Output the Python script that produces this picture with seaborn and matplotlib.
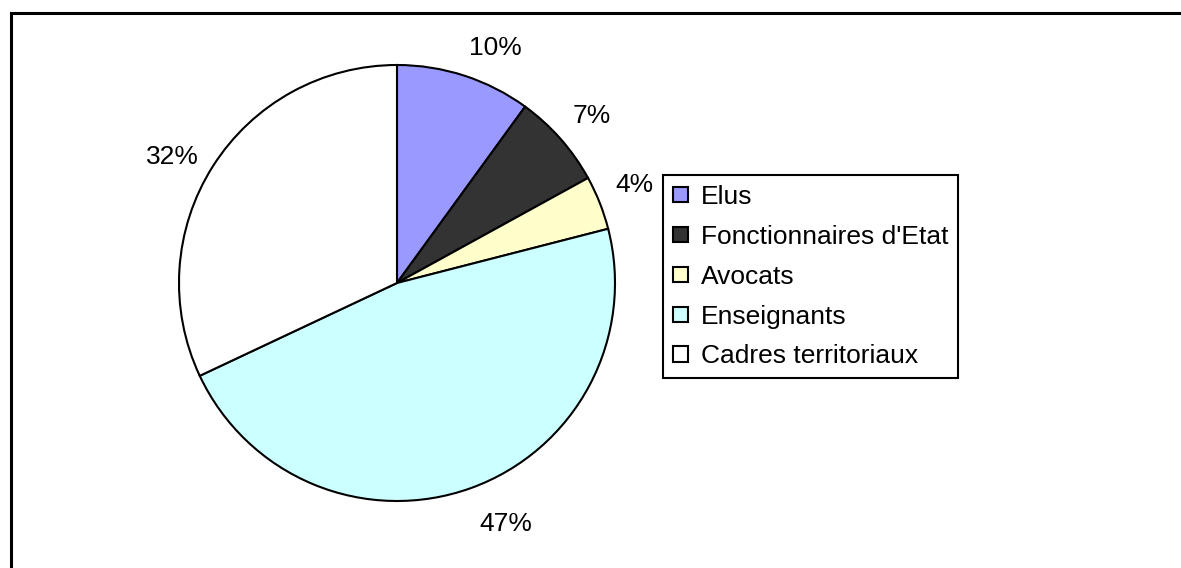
import matplotlib
matplotlib.use("Agg")
import matplotlib.pyplot as plt
import seaborn as sns
from matplotlib.patches import Patch
from matplotlib.lines import Line2D

categories = ["Elus", "Fonctionnaires d'Etat", "Avocats", "Enseignants", "Cadres territoriaux"]
values = [10, 7, 4, 47, 32]
labels = ["10%", "7%", "4%", "47%", "32%"]
colors = ["#9999FF", "#333333", "#FFFFCC", "#CCFFFF", "#FFFFFF"]

sns.set_theme(style="white")
plt.rcParams['font.family'] = ['Liberation Sans', 'DejaVu Sans']
plt.rcParams['text.color'] = 'black'

W, H = 1181, 568
fig = plt.figure(figsize=(W / 100, H / 100), dpi=100)
fig.patch.set_facecolor("white")

cx, cy, r = 397, 283, 218
ax = fig.add_axes([(cx - r) / W, (H - cy - r) / H, 2 * r / W, 2 * r / H])
wedges, texts = ax.pie(values, colors=colors, startangle=90, counterclock=False,
                       labels=labels, labeldistance=1.075, radius=1,
                       wedgeprops=dict(edgecolor="black", linewidth=1.5),
                       textprops=dict(fontsize=19, color="black"))
for t in texts:
    x, y = t.get_position()
    if x < 0 and abs(x) > abs(y):
        t.set_va("center")
    elif y > 0:
        t.set_va("bottom")
    else:
        t.set_va("top")
        t.set_position((x * 1.04, y * 1.04))
ax.set_xlim(-1, 1)
ax.set_ylim(-1, 1)
ax.set_aspect("auto")
ax.axis("off")

handles = [Patch(facecolor=c, edgecolor="black", linewidth=1.5) for c in colors]
leg = fig.legend(handles, categories, loc="upper left",
                 bbox_to_anchor=(663 / W, 1 - 175 / H), bbox_transform=fig.transFigure,
                 fontsize=19, frameon=True, fancybox=False, shadow=False,
                 borderaxespad=0, borderpad=0.38, labelspacing=0.6,
                 handlelength=0.55, handleheight=0.5, handletextpad=0.5,
                 labelcolor="black")
fr = leg.get_frame()
fr.set_edgecolor("black")
fr.set_linewidth(1.5)
fr.set_facecolor("white")
fr.set_alpha(1)

# outer chart border (top and left visible)
fig.add_artist(Line2D([10.5 / W, 1], [1 - 13 / H, 1 - 13 / H], transform=fig.transFigure,
                      color="black", linewidth=2.2, solid_capstyle="projecting"))
fig.add_artist(Line2D([10.5 / W, 10.5 / W], [0, 1 - 13 / H], transform=fig.transFigure,
                      color="black", linewidth=2.2, solid_capstyle="projecting"))

fig.savefig("out.png", dpi=100, facecolor="white")
